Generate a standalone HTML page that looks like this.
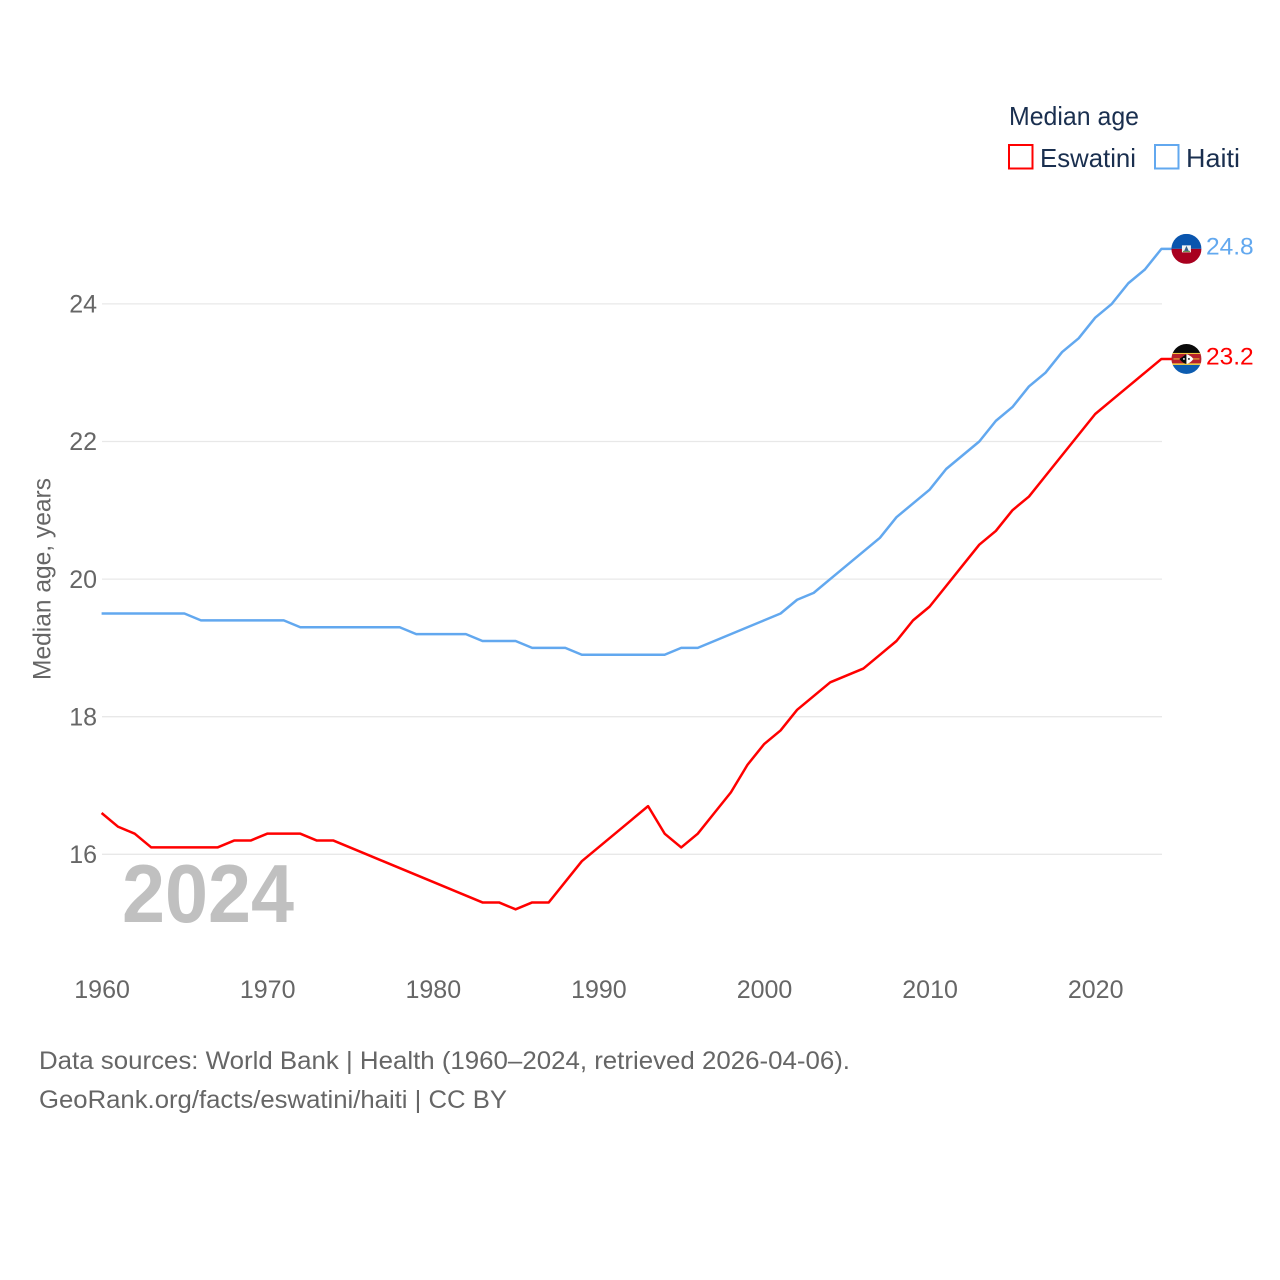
<!DOCTYPE html>
<html lang="en">
<head>
<meta charset="utf-8">
<title>Median age: Eswatini and Haiti</title>
<style>
  html, body { margin: 0; padding: 0; background: #fff; }
  svg { display: block; font-family: "Liberation Sans", sans-serif; }
</style>
</head>
<body>
<svg id="chart" xmlns="http://www.w3.org/2000/svg" width="1280" height="1280" viewBox="0 0 1280 1280">
  <defs>
    <clipPath id="flag-clip"><circle cx="0" cy="0" r="15"></circle></clipPath>
  </defs>
  <rect x="0" y="0" width="1280" height="1280" fill="#ffffff"></rect>
  <g id="grid"></g>
  <text x="122" y="922" font-size="83" font-weight="700" fill="#c0c0c0" textLength="172" lengthAdjust="spacingAndGlyphs">2024</text>
  <g id="y-axis"></g>
  <g id="x-axis"></g>
  <text transform="translate(50.5,680) rotate(-90)" x="0" y="0" font-size="25" fill="#666666" textLength="202" lengthAdjust="spacingAndGlyphs">Median age, years</text>
  <g id="series"></g>

  <g id="flag-haiti">
    <g clip-path="url(#flag-clip)">
      <rect x="-15" y="-15" width="30" height="15" fill="#0a55ae"></rect>
      <rect x="-15" y="0" width="30" height="15" fill="#a8001f"></rect>
      <rect x="-4.5" y="-3.5" width="9" height="7" fill="#f2f2f2"></rect>
      <path d="M-2.5 2.5 L0 -3 L2.5 2.5 Z" fill="#35608c"></path>
      <rect x="-3.5" y="2" width="7" height="1.2" fill="#6f8f4f"></rect>
    </g>
  </g>
  <g id="flag-eswatini">
    <g clip-path="url(#flag-clip)">
      <rect x="-15" y="-15" width="30" height="10" fill="#0a0a0a"></rect>
      <rect x="-15" y="-6" width="30" height="2" fill="#f5cf3f"></rect>
      <rect x="-15" y="-5" width="30" height="9.5" fill="#b7222b"></rect>
      <rect x="-15" y="4.5" width="30" height="2" fill="#f5cf3f"></rect>
      <rect x="-15" y="6" width="30" height="9" fill="#0d5cb0"></rect>
      <rect x="-13" y="-0.5" width="26" height="1" fill="#e8c23a"></rect>
      <path d="M-7 0 Q0 -5 0 -5 L0 5 Q-4 4 -7 0 Z" fill="#0a0a0a"></path>
      <path d="M0 -5 Q5 -3 7 0 Q4 4 0 5 Z" fill="#ffffff"></path>
      <circle cx="-2.5" cy="0" r="0.9" fill="#ffffff"></circle>
      <circle cx="2.5" cy="0" r="0.9" fill="#0a0a0a"></circle>
    </g>
  </g>

  <g>
    <text x="1009" y="125" font-size="26" fill="#1a2f4f" textLength="130" lengthAdjust="spacingAndGlyphs">Median age</text>
    <g>
      <rect x="1009" y="145" width="23.5" height="23.5" fill="none" stroke="#ff0000" stroke-width="2"></rect>
      <text x="1040" y="167" font-size="26" fill="#1a2f4f" textLength="96" lengthAdjust="spacingAndGlyphs">Eswatini</text>
    </g>
    <g>
      <rect x="1155" y="145" width="23.5" height="23.5" fill="none" stroke="#62a8ef" stroke-width="2"></rect>
      <text x="1186" y="167" font-size="26" fill="#1a2f4f" textLength="54" lengthAdjust="spacingAndGlyphs">Haiti</text>
    </g>
  </g>

  <text x="39" y="1069" font-size="25" fill="#666666" textLength="811" lengthAdjust="spacingAndGlyphs">Data sources: World Bank | Health (1960–2024, retrieved 2026-04-06).</text>
  <text x="39" y="1108" font-size="25" fill="#666666" textLength="468" lengthAdjust="spacingAndGlyphs">GeoRank.org/facts/eswatini/haiti | CC BY</text>
</svg>

<script>
const startYear = 1960;
const xTickLabels = [1960, 1970, 1980, 1990, 2000, 2010, 2020];
const yTickLabels = [16, 18, 20, 22, 24];
const eswatiniValues = [16.6, 16.4, 16.3, 16.1, 16.1, 16.1, 16.1, 16.1, 16.2, 16.2,
  16.3, 16.3, 16.3, 16.2, 16.2, 16.1, 16.0, 15.9, 15.8, 15.7,
  15.6, 15.5, 15.4, 15.3, 15.3, 15.2, 15.3, 15.3, 15.6, 15.9,
  16.1, 16.3, 16.5, 16.7, 16.3, 16.1, 16.3, 16.6, 16.9, 17.3,
  17.6, 17.8, 18.1, 18.3, 18.5, 18.6, 18.7, 18.9, 19.1, 19.4,
  19.6, 19.9, 20.2, 20.5, 20.7, 21.0, 21.2, 21.5, 21.8, 22.1,
  22.4, 22.6, 22.8, 23.0, 23.2];
const haitiValues = [19.5, 19.5, 19.5, 19.5, 19.5, 19.5, 19.4, 19.4, 19.4, 19.4,
  19.4, 19.4, 19.3, 19.3, 19.3, 19.3, 19.3, 19.3, 19.3, 19.2,
  19.2, 19.2, 19.2, 19.1, 19.1, 19.1, 19.0, 19.0, 19.0, 18.9,
  18.9, 18.9, 18.9, 18.9, 18.9, 19.0, 19.0, 19.1, 19.2, 19.3,
  19.4, 19.5, 19.7, 19.8, 20.0, 20.2, 20.4, 20.6, 20.9, 21.1,
  21.3, 21.6, 21.8, 22.0, 22.3, 22.5, 22.8, 23.0, 23.3, 23.5,
  23.8, 24.0, 24.3, 24.5, 24.8];

const SVG_NS = 'http://www.w3.org/2000/svg';
const xScale = function (year) { return 101.6 + (year - 1960) * 16.56; };
const yScale = function (value) { return 854.3 - (value - 16) * 68.8; };
const gridLayer = document.getElementById('grid');
const yAxisLayer = document.getElementById('y-axis');
const xAxisLayer = document.getElementById('x-axis');
const seriesLayer = document.getElementById('series');
const svgRoot = document.getElementById('chart');

yTickLabels.forEach(function (tick) {
  const line = document.createElementNS(SVG_NS, 'line');
  
  
  line.setAttribute('x1', 102);
  line.setAttribute('x2', 1162);
  line.setAttribute('y1', yScale(tick));
  line.setAttribute('y2', yScale(tick));
  line.setAttribute('stroke', '#e8e8e8');
  line.setAttribute('stroke-width', '1.3');
  gridLayer.appendChild(line);

  const label = document.createElementNS(SVG_NS, 'text');
  
  
  label.setAttribute('x', 97);
  label.setAttribute('y', yScale(tick) + 8.7);
  label.setAttribute('text-anchor', 'end');
  label.setAttribute('font-size', '25');
  label.setAttribute('fill', '#666666');
  label.textContent = tick;
  yAxisLayer.appendChild(label);
});

xTickLabels.forEach(function (tick) {
  const label = document.createElementNS(SVG_NS, 'text');
  
  
  label.setAttribute('x', xScale(tick) + 0.5);
  label.setAttribute('y', 998);
  label.setAttribute('text-anchor', 'middle');
  label.setAttribute('font-size', '25');
  label.setAttribute('fill', '#666666');
  label.textContent = tick;
  xAxisLayer.appendChild(label);
});

function drawSeries(values, color, seriesName, flagId) {
  const lastX = xScale(startYear + values.length - 1);
  const lastY = yScale(values[values.length - 1]);
  const points = values.map(function (value, i) {
    return xScale(startYear + i).toFixed(2) + ',' + yScale(value).toFixed(2);
  });
  points.push((lastX + 11).toFixed(2) + ',' + lastY.toFixed(2));

  const line = document.createElementNS(SVG_NS, 'polyline');
  
  
  line.setAttribute('points', points.join(' '));
  line.setAttribute('fill', 'none');
  line.setAttribute('stroke', color);
  line.setAttribute('stroke-width', '2.5');
  line.setAttribute('stroke-linejoin', 'round');
  seriesLayer.appendChild(line);

  document.getElementById(flagId).setAttribute('transform', 'translate(' + (lastX + 25) + ',' + lastY + ')');

  const endLabel = document.createElementNS(SVG_NS, 'text');
  
  
  endLabel.setAttribute('x', 1206);
  endLabel.setAttribute('y', lastY + 5.5);
  endLabel.setAttribute('font-size', '24.5');
  endLabel.setAttribute('fill', color);
  endLabel.textContent = values[values.length - 1].toFixed(1);
  svgRoot.appendChild(endLabel);
}

drawSeries(eswatiniValues, '#ff0000', 'eswatini', 'flag-eswatini');
drawSeries(haitiValues, '#62a8ef', 'haiti', 'flag-haiti');
</script>
</body>
</html>
